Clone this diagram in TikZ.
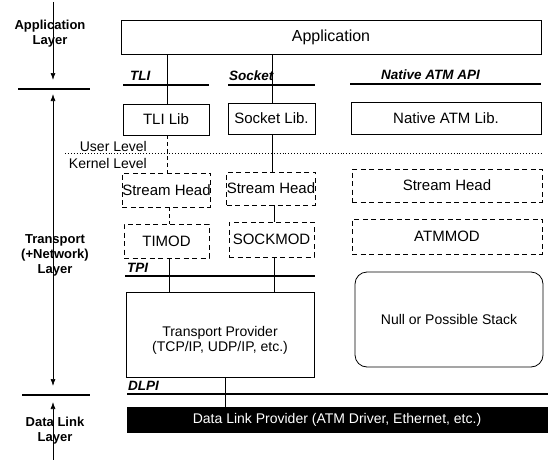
\documentclass[tikz,border=0pt]{standalone}
\usepackage{fontspec}
\setmainfont{Liberation Sans}
\usetikzlibrary{arrows.meta}
\begin{document}
\begin{tikzpicture}[x=1pt,y=-1pt,
  every node/.style={font=\fontsize{14}{15}\selectfont, inner sep=0pt},
  box/.style={draw, line width=0.8pt, align=center},
  sbox/.style={box, font=\fontsize{15}{16}\selectfont},
  dbox/.style={sbox, dash pattern=on 5pt off 3.5pt},
  lbl/.style={font=\fontsize{13}{15}\selectfont\bfseries, align=center},
  api/.style={font=\fontsize{13.5}{15}\selectfont\bfseries\itshape, anchor=west},
  lvl/.style={font=\fontsize{14}{15}\selectfont, anchor=east},
  conn/.style={line width=0.7pt},
  dconn/.style={conn, dash pattern=on 4pt off 3pt},
  apiline/.style={line width=1.4pt},
  axis/.style={line width=0.7pt},
  tip/.style={-{Latex[length=7pt,width=5pt]}},
  sep/.style={line width=2.6pt}]
\useasboundingbox (0,0) rectangle (553,460);

% column coordinates
\coordinate (c1) at (167,0);
\coordinate (c1b) at (169,0);
\coordinate (c2) at (272,0);
\coordinate (c2b) at (274,0);
\coordinate (c3) at (225,0);

% boxes
\node[box, minimum width=420, minimum height=34, font=\fontsize{16}{17}\selectfont] (app) at (331,37) {Application};
\node[sbox, minimum width=86, minimum height=31] (tlilib) at (166,119.5) {TLI Lib};
\node[sbox, minimum width=87, minimum height=31] (socklib) at (271.5,118.5) {Socket Lib.};
\node[sbox, minimum width=190, minimum height=32] (atmlib) at (446,118) {Native ATM Lib.};
\node[dbox, minimum width=87, minimum height=34] (sh1) at (166.5,190) {Stream Head};
\node[dbox, minimum width=86, minimum height=33] (sh2) at (271,188.5) {Stream Head};
\node[dbox, minimum width=190, minimum height=33] (sh3) at (447,185.5) {Stream Head};
\node[dbox, minimum width=85, minimum height=34] (timod) at (166.5,241) {TIMOD};
\node[dbox, minimum width=85, minimum height=35] (sockmod) at (271.5,239.5) {SOCKMOD};
\node[dbox, minimum width=190, minimum height=35] (atmmod) at (447,236.5) {ATMMOD};
\node[box, minimum width=188, minimum height=85] (tp) at (220,334.5) {};
\node[align=center] (tptext) at (220,340) {Transport Provider\\(TCP/IP, UDP/IP, etc.)};
\node[box, rounded corners=12pt, minimum width=188, minimum height=95] (null) at (449,319.5) {Null or Possible Stack};
\node[draw, fill=black, text=white, minimum width=420, minimum height=25] (dlp) at (337,420) {Data Link Provider (ATM Driver, Ethernet, etc.)};

% API labels and lines
\node[api] (tli) at (130,76) {TLI};
\node[api] (sock) at (229,76) {Socket};
\node[api] (natapi) at (381,75) {Native ATM API};
\node[api] (tpi) at (127,268) {TPI};
\node[api] (dlpi) at (128,386) {DLPI};
\coordinate (tliL) at (123,85); \coordinate (tliR) at (209,85);
\coordinate (sockL) at (228,85); \coordinate (sockR) at (315,85);
\coordinate (natL) at (350,84); \coordinate (natR) at (541,84);
\coordinate (tpiL) at (125,276); \coordinate (tpiR) at (315,276);
\coordinate (dlpiL) at (127,394); \coordinate (dlpiR) at (548,394);
\draw[apiline] (tliL) -- (tliR);
\draw[apiline] (sockL) -- (sockR);
\draw[apiline] (natL) -- (natR);
\draw[line width=2pt] (tpiL) -- (tpiR);
\draw[line width=1.8pt] (dlpiL) -- (dlpiR);

% user / kernel level
\coordinate (ukL) at (65,153); \coordinate (ukR) at (541,153);
\draw[line width=0.9pt, dotted] (ukL) -- (ukR);
\node[lvl] (user) at (147,146) {User Level};
\node[lvl] (kernel) at (147,163) {Kernel Level};

% connectors
\draw[conn] (app.south -| c1) -- (tlilib.north -| c1);
\draw[conn] (app.south -| c2) -- (socklib.north -| c2);
\draw[dconn] (tlilib.south -| c1) -- (sh1.north -| c1);
\draw[conn] (socklib.south -| c2) -- (sh2.north -| c2);
\draw[dconn] (sh1.south -| c1b) -- (timod.north -| c1b);
\draw[conn] (sh2.south -| c2b) -- (sockmod.north -| c2b);
\draw[conn] (timod.south -| c1b) -- (tp.north -| c1b);
\draw[conn] (sockmod.south -| c2b) -- (tp.north -| c2b);
\draw[conn] (tp.south -| c3) -- (dlp.north -| c3);

% left layer axis
\coordinate (a0) at (53,2);
\coordinate (a1) at (53,80);
\coordinate (a2) at (53,94);
\coordinate (a3) at (53,386);
\coordinate (a4) at (53,402);
\coordinate (a5) at (53,460);
\coordinate (s1L) at (18,89); \coordinate (s1R) at (90,89);
\coordinate (s2L) at (22,395); \coordinate (s2R) at (90,395);
\draw[axis, tip] (a0) -- (a1);
\draw[axis, {Latex[length=7pt,width=5pt]}-{Latex[length=7pt,width=5pt]}] (a2) -- (a3);
\draw[axis, {Latex[length=7pt,width=5pt]}-] (a4) -- (a5);
\draw[sep] (s1L) -- (s1R);
\draw[sep] (s2L) -- (s2R);
\node[lbl] (applayer) at (50,34) {Application\\Layer};
\node[lbl] (translayer) at (55,255) {Transport\\(+Network)\\Layer};
\node[lbl] (dllayer) at (55,431) {Data Link\\Layer};
\end{tikzpicture}
\end{document}
